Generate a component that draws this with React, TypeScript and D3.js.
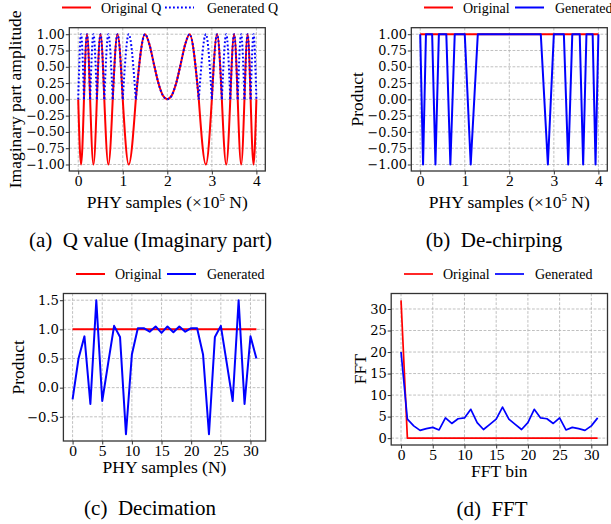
import React, { useRef, useEffect } from 'react';
import * as d3 from 'd3';

// (a) Q value: zero crossings / extremes of the chirp (x in 1e5 samples)
const qX = [0, 0.064, 0.129, 0.197, 0.268, 0.342, 0.419, 0.5, 0.586, 0.677, 0.775, 0.882, 1.0, 1.134, 1.293,
  1.5, 1.6, 1.7, 1.8, 1.9, 2.0, 2.1, 2.2, 2.3, 2.4, 2.5,
  2.707, 2.866, 3.0, 3.118, 3.225, 3.323, 3.414, 3.5, 3.581, 3.658, 3.732, 3.803, 3.871, 3.936, 4.0];
const qOriginal = [0, -1, 0, 1, 0, -1, 0, 1, 0, -1, 0, 1, 0, -1, 0,
  1, 0.84, 0.54, 0.25, 0.06, 0, 0.06, 0.25, 0.54, 0.84, 1,
  0, -1, 0, 1, 0, -1, 0, 1, 0, -1, 0, 1, 0, -1, 0];
const qGenerated = [0, 1, 0, 1, 0, 1, 0, 1, 0, 1, 0, 1, 0, 1, 0,
  1, 0.84, 0.54, 0.25, 0.06, 0, 0.06, 0.25, 0.54, 0.84, 1,
  0, 1, 0, 1, 0, 1, 0, 1, 0, 1, 0, 1, 0, 1, 0];

// (b) De-chirping product
const dechirpX = [0, 0.064, 0.129, 0.268, 0.342, 0.419, 0.586, 0.677, 0.775, 1.0, 1.134, 1.293,
  2.707, 2.866, 3.0, 3.225, 3.323, 3.414, 3.581, 3.658, 3.732, 3.871, 3.936, 4.0];
const dechirpOriginal = [1, 1, 1, 1, 1, 1, 1, 1, 1, 1, 1, 1, 1, 1, 1, 1, 1, 1, 1, 1, 1, 1, 1, 1];
const dechirpGenerated = [1, -1, 1, 1, -1, 1, 1, -1, 1, 1, -1, 1, 1, -1, 1, 1, -1, 1, 1, -1, 1, 1, -1, 1];

// (c) Decimation, (d) FFT — 32 samples / bins
const sampleIdx = d3.range(32);
const decimationOriginal = [1, 1, 1, 1, 1, 1, 1, 1, 1, 1, 1, 1, 1, 1, 1, 1, 1, 1, 1, 1, 1, 1, 1, 1, 1, 1, 1, 1, 1, 1, 1, 1];
const decimationGenerated = [-0.2, 0.5, 0.88, -0.28, 1.5, -0.23, 0.42, 1.06, 0.87, -0.8, 0.57, 1.02, 1.02, 0.96, 1.05, 0.94,
  1.05, 0.95, 1.05, 0.96, 1.02, 1.02, 0.57, -0.8, 0.87, 1.06, 0.42, -0.23, 1.5, -0.28, 0.88, 0.5];
const fftOriginal = [32, 0, 0, 0, 0, 0, 0, 0, 0, 0, 0, 0, 0, 0, 0, 0, 0, 0, 0, 0, 0, 0, 0, 0, 0, 0, 0, 0, 0, 0, 0, 0];
const fftGenerated = [20, 4.4, 2.85, 1.8, 2.2, 2.5, 1.9, 4.7, 3.4, 4.5, 4.7, 6.7, 3.6, 2.0, 3.2, 4.4,
  7.2, 4.4, 3.2, 2.0, 3.6, 6.7, 4.7, 4.5, 3.4, 4.7, 1.9, 2.5, 2.2, 1.8, 2.85, 4.7];

const SERIF = '"Liberation Serif", "Times New Roman", serif';
const TICKFONT = '"DejaVu Serif", serif';
const RED = '#ff0000';
const BLUE = '#0000ff';

type Series = { x: number[]; y: number[]; color: string; width: number; dash?: string; arches?: boolean };
type Cfg = {
  l: number; t: number; w: number; h: number;
  xDomain: [number, number]; yDomain: [number, number];
  xTicks: number[]; yTicks: number[]; yFmt: string; yTickSize: number;
  series: Series[];
  legend: { y: number; x: number[]; labels: string[] };
  yLabel: string; yLabelX: number;
  xLabel: React.ReactNode; xLabelY: number;
  caption: string; captionX: number; captionY: number;
};

// split a curve into arches between its zero points
const splitAtZeros = (pts: [number, number][]) => {
  const out: [number, number][][] = [];
  let cur: [number, number][] = [];
  pts.forEach((p, i) => {
    cur.push(p);
    if (p[1] === 0 && i > 0) {
      out.push(cur);
      cur = [p];
    }
  });
  if (cur.length > 1) out.push(cur);
  return out;
};

const Panel = ({ cfg }: { cfg: Cfg }) => {
  const ref = useRef<SVGGElement>(null);

  useEffect(() => {
    const g = d3.select(ref.current);
    g.selectAll('*').remove();
    const { l, t, w, h } = cfg;
    const x = d3.scaleLinear().domain(cfg.xDomain).range([l, l + w]);
    const y = d3.scaleLinear().domain(cfg.yDomain).range([t + h, t]);

    const grid = g.append('g')
      .attr('stroke', '#b0b0b0')
      .attr('stroke-width', 0.8)
      .attr('stroke-dasharray', '2.8,1.6');
    grid.selectAll('.vx').data(cfg.xTicks).join('line')
      .attr('x1', d => x(d)).attr('x2', d => x(d))
      .attr('y1', t).attr('y2', t + h);
    grid.selectAll('.hy').data(cfg.yTicks).join('line')
      .attr('class', 'hy')
      .attr('x1', l).attr('x2', l + w)
      .attr('y1', d => y(d)).attr('y2', d => y(d));

    cfg.series.forEach(s => {
      const pts = s.x.map((xv, i) => [xv, s.y[i]] as [number, number]);
      const segs = s.arches ? splitAtZeros(pts) : [pts];
      const ln = d3.line<[number, number]>()
        .x(d => x(d[0]))
        .y(d => y(d[1]))
        .curve(s.arches ? d3.curveMonotoneX : d3.curveLinear);
      g.append('g').selectAll('path').data(segs).join('path')
        .attr('d', ln)
        .attr('fill', 'none')
        .attr('stroke', s.color)
        .attr('stroke-width', s.width)
        .attr('stroke-dasharray', s.dash ?? null)
        .attr('stroke-linejoin', 'round');
    });

    g.append('rect')
      .attr('x', l).attr('y', t).attr('width', w).attr('height', h)
      .attr('fill', 'none').attr('stroke', '#333').attr('stroke-width', 1.3);

    const xa = g.append('g')
      .attr('transform', `translate(0,${t + h})`)
      .call(d3.axisBottom(x).tickValues(cfg.xTicks).tickSize(3.5).tickFormat(d3.format('d')));
    xa.select('.domain').remove();
    xa.selectAll('line').attr('stroke', '#333');
    xa.selectAll('text')
      .attr('y', 15).attr('dy', null)
      .attr('font-family', SERIF).attr('font-size', 15.5).attr('fill', '#000');

    const ya = g.append('g')
      .attr('transform', `translate(${l},0)`)
      .call(d3.axisLeft(y).tickValues(cfg.yTicks).tickSize(3.5).tickFormat(d3.format(cfg.yFmt)));
    ya.select('.domain').remove();
    ya.selectAll('line').attr('stroke', '#333');
    ya.selectAll('text')
      .attr('x', -4.5)
      .attr('font-family', TICKFONT).attr('font-size', cfg.yTickSize).attr('fill', '#000');
  }, [cfg]);

  const lg = cfg.legend;
  const first = cfg.series[0];
  const second = cfg.series[1];
  return (
    <g>
      <g ref={ref} />
      <g fontFamily={SERIF} fontSize={14}>
        <line x1={lg.x[0]} x2={lg.x[0] + 29} y1={lg.y} y2={lg.y} stroke={first.color} strokeWidth={first.width} />
        <text x={lg.x[1]} y={lg.y + 5}>{lg.labels[0]}</text>
        <line x1={lg.x[2]} x2={lg.x[2] + 29} y1={lg.y} y2={lg.y} stroke={second.color} strokeWidth={second.width}
          strokeDasharray={second.dash} />
        <text x={lg.x[3]} y={lg.y + 5}>{lg.labels[1]}</text>
      </g>
      <text fontFamily={SERIF} fontSize={17.5} textAnchor="middle"
        transform={`translate(${cfg.yLabelX},${cfg.t + cfg.h / 2}) rotate(-90)`}>{cfg.yLabel}</text>
      <text fontFamily={SERIF} fontSize={17.5} textAnchor="middle" x={cfg.l + cfg.w / 2} y={cfg.xLabelY}>{cfg.xLabel}</text>
      <text fontFamily={SERIF} fontSize={21} textAnchor="middle" x={cfg.captionX} y={cfg.captionY}>{cfg.caption}</text>
    </g>
  );
};

const phyLabel = (
  <>
    PHY samples (×10<tspan fontSize={11} dy={-7}>5</tspan><tspan dy={7}> N)</tspan>
  </>
);

const qTicks = [-1, -0.75, -0.5, -0.25, 0, 0.25, 0.5, 0.75, 1];

const panels: Cfg[] = [
  {
    l: 69.3, t: 27.7, w: 196, h: 143.3,
    xDomain: [-0.2, 4.2], yDomain: [-1.1, 1.1],
    xTicks: [0, 1, 2, 3, 4], yTicks: qTicks, yFmt: '.2f', yTickSize: 12.6,
    series: [
      { x: qX, y: qOriginal, color: RED, width: 2, arches: true },
      { x: qX, y: qGenerated, color: BLUE, width: 2, dash: '1.8,2.2', arches: true },
    ],
    legend: { y: 7.5, x: [62, 101, 165, 207], labels: ['Original Q', 'Generated Q'] },
    yLabel: 'Imaginary part amplitude', yLabelX: 21,
    xLabel: phyLabel, xLabelY: 208,
    caption: '(a)\u00a0\u00a0Q value (Imaginary part)', captionX: 150.5, captionY: 246.5,
  },
  {
    l: 411.3, t: 27.7, w: 196, h: 143.3,
    xDomain: [-0.2, 4.2], yDomain: [-1.1, 1.1],
    xTicks: [0, 1, 2, 3, 4], yTicks: qTicks, yFmt: '.2f', yTickSize: 12.8,
    series: [
      { x: dechirpX, y: dechirpOriginal, color: RED, width: 2 },
      { x: dechirpX, y: dechirpGenerated, color: BLUE, width: 2 },
    ],
    legend: { y: 7.5, x: [424, 463, 515, 555], labels: ['Original', 'Generated'] },
    yLabel: 'Product', yLabelX: 363,
    xLabel: phyLabel, xLabelY: 208,
    caption: '(b)\u00a0\u00a0De-chirping', captionX: 494, captionY: 246.5,
  },
  {
    l: 63.4, t: 293.5, w: 202.2, h: 147.5,
    xDomain: [-1.55, 32.55], yDomain: [-0.915, 1.615],
    xTicks: [0, 5, 10, 15, 20, 25, 30], yTicks: [-0.5, 0, 0.5, 1, 1.5], yFmt: '.1f', yTickSize: 13.2,
    series: [
      { x: sampleIdx, y: decimationOriginal, color: RED, width: 2 },
      { x: sampleIdx, y: decimationGenerated, color: BLUE, width: 2 },
    ],
    legend: { y: 274, x: [76, 115, 167, 207], labels: ['Original', 'Generated'] },
    yLabel: 'Product', yLabelX: 24,
    xLabel: 'PHY samples (N)', xLabelY: 472.7,
    caption: '(c)\u00a0\u00a0Decimation', captionX: 150, captionY: 515,
  },
  {
    l: 391.2, t: 293.5, w: 216.3, h: 151.5,
    xDomain: [-1.55, 32.55], yDomain: [-1.6, 33.6],
    xTicks: [0, 5, 10, 15, 20, 25, 30], yTicks: [0, 5, 10, 15, 20, 25, 30], yFmt: 'd', yTickSize: 13,
    series: [
      { x: sampleIdx, y: fftOriginal, color: RED, width: 1.7 },
      { x: sampleIdx, y: fftGenerated, color: BLUE, width: 1.7 },
    ],
    legend: { y: 274, x: [404, 443, 495, 535], labels: ['Original', 'Generated'] },
    yLabel: 'FFT', yLabelX: 366,
    xLabel: 'FFT bin', xLabelY: 477,
    caption: '(d)\u00a0\u00a0FFT', captionX: 492, captionY: 516,
  },
];

export default function App() {
  return (
    <svg width={611} height={524} style={{ position: 'absolute', left: 0, top: 0, background: '#fff' }}>
      {panels.map((p, i) => <Panel key={i} cfg={p} />)}
    </svg>
  );
}
